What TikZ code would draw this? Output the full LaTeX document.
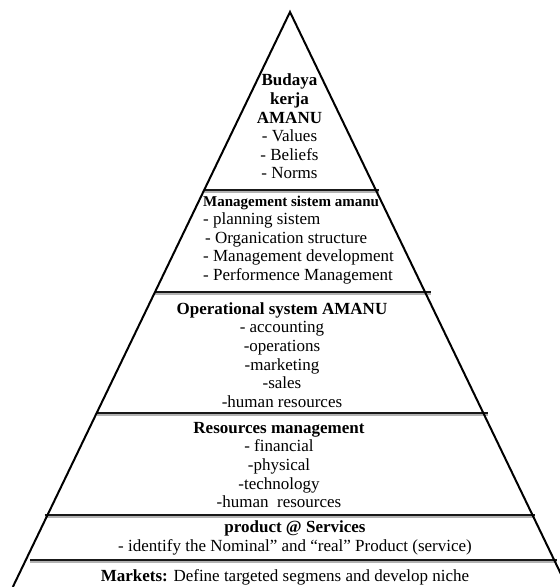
\documentclass[tikz,border=0pt]{standalone}
\usepackage{fontspec}
\setmainfont{Liberation Serif}
\usetikzlibrary{calc}
\begin{document}
\begin{tikzpicture}[x=1pt,y=-1pt,
  side/.style={line width=2pt,black},
  divider/.style={line width=2.2pt,black!90},
  shade/.style={line width=1.6pt,black!30},
  txt/.style={align=center,inner sep=0pt,font=\fontsize{17}{18.6}\selectfont},
  smalltitle/.style={font=\fontsize{15}{18.5}\selectfont}]
\useasboundingbox (0,0) rectangle (560,587);
\clip (0,0) rectangle (560,587);
\fill[white] (0,0) rectangle (560,587);
\coordinate (apex) at (290,12);
\coordinate (bl) at (12.8,587);
\coordinate (br) at (567.2,587);
% levels
\coordinate (L1) at ($(apex)!0.3096!(bl)$);
\coordinate (R1) at ($(apex)!0.3096!(br)+(3,0)$);
\coordinate (L2) at ($(apex)!0.4870!(bl)$);
\coordinate (R2) at ($(apex)!0.4870!(br)+(6,0)$);
\coordinate (L3) at ($(apex)!0.6974!(bl)$);
\coordinate (R3) at ($(apex)!0.6974!(br)+(5,0)$);
\coordinate (L4) at ($(apex)!0.8748!(bl)+(-3,0)$);
\coordinate (R4) at ($(apex)!0.8748!(br)+(3,0)$);
\coordinate (L5) at ($(apex)!0.9530!(bl)+(4,0)$);
\coordinate (R5) at ($(apex)!0.9530!(br)+(3,0)$);
\foreach \i in {1,...,5}{
  \draw[shade] ($(L\i)+(0,2.2)$) -- ($(R\i)+(0,2.2)$);
  \draw[divider] (L\i) -- (R\i);
}
\draw[side] (bl) -- (apex) -- (br);
% texts
\node[txt] (s1) at (289.5,126.5) {\textbf{Budaya}\\\textbf{kerja}\\\textbf{AMANU}\\- Values\\- Beliefs\\- Norms};
\node[txt,align=left,anchor=west] (s2) at (203,240) {{\fontsize{15}{18.5}\selectfont\textbf{Management sistem amanu}}\\- planning sistem\\\hspace{2pt}- Organication structure\\- Management development\\- Performence Management};
\node[txt] (s3) at (282,355) {\textbf{Operational system AMANU}\\- accounting\\-operations\\-marketing\\-sales\\-human resources};
\node[txt] (s4) at (279,465) {\textbf{Resources management}\\- financial\\-physical\\-technology\\-human\ \ resources};
\node[txt] (s5) at (295,538) {\textbf{product @ Services}\\- identify the Nominal” and “real” Product (service)};
\node[txt] (s6) at (285,577) {\textbf{Markets:} Define targeted segmens and develop niche};
\end{tikzpicture}
\end{document}
